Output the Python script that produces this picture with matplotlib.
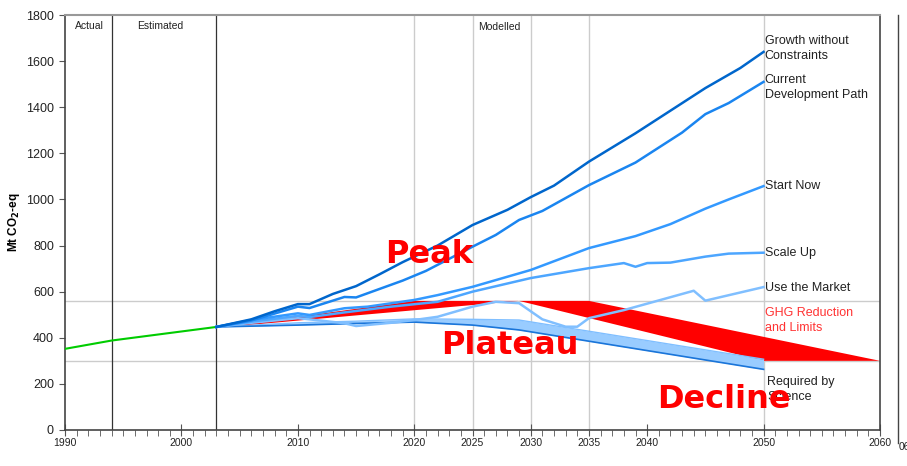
import matplotlib
matplotlib.use("Agg")
import matplotlib.pyplot as plt
from matplotlib.lines import Line2D
from matplotlib.ticker import FixedLocator, MultipleLocator

plt.rcParams['font.family'] = ['Liberation Sans', 'DejaVu Sans']

# actual + estimated emissions (green)
actual_years = [1990, 1994, 2003]
actual_vals = [352, 388, 447]

# modelled scenarios
growth_years = [2003, 2006, 2008, 2010, 2011, 2013, 2015, 2017, 2019, 2022, 2025, 2028, 2030, 2032,
                2035, 2039, 2042, 2045, 2048, 2050]
growth_vals = [447, 480, 515, 546, 546, 590, 624, 675, 728, 800, 889, 955, 1010, 1060,
               1164, 1287, 1385, 1483, 1570, 1640]

current_years = [2003, 2006, 2008, 2010, 2011, 2014, 2015, 2019, 2021, 2025, 2027, 2029, 2031, 2035,
                 2039, 2043, 2045, 2047, 2050]
current_vals = [447, 475, 505, 535, 529, 577, 575, 648, 690, 795, 846, 911, 950, 1062,
                1160, 1290, 1370, 1418, 1510]

start_years = [2003, 2006, 2010, 2011, 2014, 2016, 2020, 2022, 2025, 2030, 2035, 2039, 2042, 2045, 2047, 2050]
start_vals = [447, 477, 506, 499, 528, 535, 564, 585, 621, 694, 789, 841, 893, 960, 1000, 1058]

scale_years = [2003, 2006, 2010, 2011, 2014, 2018, 2022, 2025, 2030, 2035, 2038, 2039, 2040, 2042,
               2045, 2047, 2050]
scale_vals = [447, 470, 495, 490, 510, 535, 556, 600, 659, 702, 724, 708, 724, 726, 752, 765, 769]

market_years = [2003, 2006, 2010, 2011, 2014, 2015, 2018, 2020, 2022, 2025, 2027, 2029, 2031, 2033,
                2034, 2035, 2038, 2044, 2045, 2050]
market_vals = [447, 465, 485, 480, 463, 451, 465, 477, 491, 535, 556, 550, 480, 448,
               448, 485, 520, 604, 561, 620]

science_years = [2003, 2010, 2015, 2020, 2025, 2029, 2050]
science_upper = [447, 465, 472, 482, 480, 477, 307]
science_lower = [447, 455, 462, 468, 455, 434, 263]

# GHG reduction and limits envelope
limit_upper_years = [2003, 2020, 2035, 2060]
limit_upper_vals = [443, 560, 560, 300]
limit_lower_years = [2003, 2029, 2050, 2060]
limit_lower_vals = [443, 560, 300, 300]

period_lines = [1994, 2003]
grid_years = [2020, 2025, 2030, 2035, 2050]
grid_vals = [300, 560]
tick_years = [1990, 2000, 2010, 2020, 2025, 2030, 2035, 2040, 2050, 2060]
short_tick_years = [2025, 2035]

fig = plt.figure(figsize=(9.07, 4.66), dpi=100)
ax = fig.add_axes([65 / 907, 36 / 466, 815 / 907, 415 / 466])

ax.set_xlim(1990, 2060)
ax.set_ylim(0, 1800)

for x in grid_years:
    ax.axvline(x, color="#cccccc", linewidth=1.0, zorder=1)
for y in grid_vals:
    ax.axhline(y, color="#cccccc", linewidth=1.0, zorder=1)
for x in period_lines:
    ax.axvline(x, color="#333333", linewidth=0.9, zorder=1)

ax.plot(actual_years, actual_vals, color="#00cc00", linewidth=1.5, zorder=3)

# red envelope
poly_x = limit_upper_years + limit_lower_years[::-1]
poly_y = limit_upper_vals + limit_lower_vals[::-1]
ax.fill(poly_x, poly_y, color="#ff0000", linewidth=0, zorder=2)

# required by science band
ax.fill_between(science_years, science_lower, science_upper, color="#99ccff", linewidth=0, zorder=3)
ax.plot(science_years, science_upper, color="#80bfff", linewidth=1.0, zorder=3)
ax.plot(science_years, science_lower, color="#1a75d9", linewidth=1.2, zorder=3)

ax.plot(market_years, market_vals, color="#80bfff", linewidth=1.8, zorder=4)
ax.plot(scale_years, scale_vals, color="#4da6ff", linewidth=1.8, zorder=4)
ax.plot(start_years, start_vals, color="#3399ff", linewidth=1.8, zorder=4)
ax.plot(current_years, current_vals, color="#1a85f0", linewidth=1.8, zorder=4)
ax.plot(growth_years, growth_vals, color="#0066cc", linewidth=1.8, zorder=4)

# scenario labels
label_kw = dict(fontsize=9, color="#222222", ha="left", va="center", linespacing=1.35, zorder=5)
ax.text(2050.1, 1656, "Growth without\nConstraints", **label_kw)
ax.text(2050.1, 1485, "Current\nDevelopment Path", **label_kw)
ax.text(2050.1, 1058, "Start Now", **label_kw)
ax.text(2050.1, 768, "Scale Up", **label_kw)
ax.text(2050.1, 616, "Use the Market", **label_kw)
ax.text(2050.1, 475, "GHG Reduction\nand Limits", fontsize=9, color="#ff3333", ha="left", va="center",
        linespacing=1.35, zorder=5)
ax.text(2050.3, 176, "Required by\nScience", **label_kw)

# period labels
ax.text(1992.1, 1752, "Actual", fontsize=7.5, color="#222222", ha="center", va="center")
ax.text(1998.2, 1752, "Estimated", fontsize=7.5, color="#222222", ha="center", va="center")
ax.text(2027.3, 1748, "Modelled", fontsize=7.5, color="#222222", ha="center", va="center")

# big red annotations
big_kw = dict(fontsize=23, color="#ff0000", fontweight="heavy", family="DejaVu Sans",
              ha="center", va="center", zorder=6)
ax.text(2021.3, 760, "Peak", **big_kw)
ax.text(2028.2, 366, "Plateau", **big_kw)
ax.text(2046.6, 132, "Decline", **big_kw)

# axes styling
ax.set_ylabel(r"Mt CO$_\mathbf{2}$-eq", fontsize=8.5, fontweight="bold", labelpad=3)
ax.yaxis.set_major_locator(MultipleLocator(200))
ax.xaxis.set_major_locator(FixedLocator(tick_years))
ax.xaxis.set_minor_locator(MultipleLocator(1))
ax.tick_params(axis="y", labelsize=9, length=4, color="#555555", labelcolor="#222222", pad=4)
ax.tick_params(axis="x", which="major", labelsize=7.5, direction="inout", length=9,
               color="#555555", labelcolor="#222222", pad=1)
ax.tick_params(axis="x", which="minor", direction="out", length=4, color="#555555")
for tick, year in zip(ax.xaxis.get_major_ticks(), tick_years):
    if year in short_tick_years:
        tick.tick1line.set_markersize(4)
        tick.tick1line.set_marker(3)

for side in ["left", "bottom", "right"]:
    ax.spines[side].set_color("#444444")
    ax.spines[side].set_linewidth(1.2)
ax.spines["top"].set_color("#999999")
ax.spines["top"].set_linewidth(1.5)

# stray second axis at the right edge
fig.add_artist(Line2D([898 / 907, 898 / 907], [23 / 466, 451 / 466], color="#444444", linewidth=1.0))
fig.text(899 / 907, 19 / 466, "060", fontsize=7.5, color="#222222", ha="left", va="center")

plt.savefig("out.png", dpi=100)
